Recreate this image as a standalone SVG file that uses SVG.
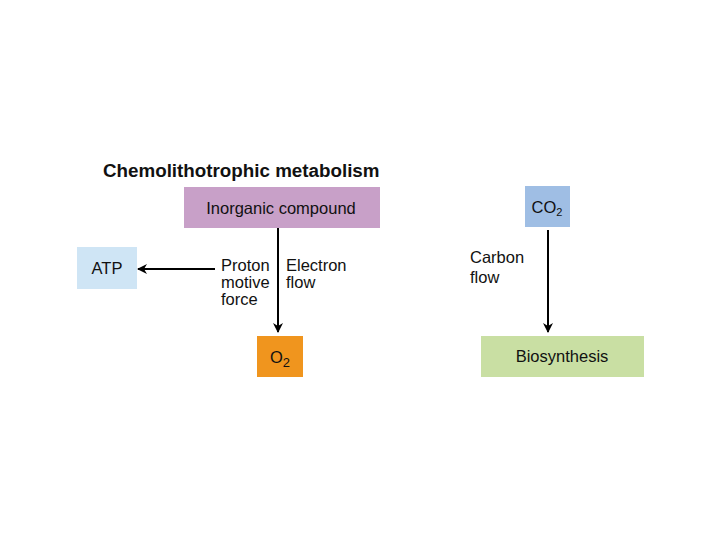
<svg xmlns="http://www.w3.org/2000/svg" width="720" height="540" viewBox="0 0 720 540">
<style>
text{font-family:"Liberation Sans",Arial,sans-serif;fill:#111}
.lbl{font-size:16.5px}
.ttl{font-size:18.8px;font-weight:bold}
.ln{stroke:#000;stroke-width:2;fill:none}
</style>
<defs>
<marker id="ah" viewBox="0 0 10 10" refX="9" refY="5" markerWidth="10" markerHeight="10" markerUnits="userSpaceOnUse" orient="auto">
<path d="M0,0 L10,5 L0,10 L3,5 Z" fill="#000"/>
</marker>
</defs>
<rect width="720" height="540" fill="#fff"/>
<text class="ttl" x="103" y="177">Chemolithotrophic metabolism</text>
<g id="inorganic">
<rect x="184" y="187" width="196" height="41" fill="#c8a0c8"/>
<text class="lbl" x="281" y="214" text-anchor="middle">Inorganic compound</text>
</g>
<g id="atp">
<rect x="77" y="247" width="60" height="42" fill="#cfe5f5"/>
<text class="lbl" x="107" y="274" text-anchor="middle">ATP</text>
</g>
<g id="o2">
<rect x="257" y="336" width="46" height="41" fill="#f0951e"/>
<text class="lbl" x="280" y="363" text-anchor="middle">O<tspan font-size="13" dy="4">2</tspan></text>
</g>
<g id="co2">
<rect x="525" y="186" width="45" height="41" fill="#9fbee4"/>
<text class="lbl" x="547" y="213" text-anchor="middle">CO<tspan font-size="11" dy="3">2</tspan></text>
</g>
<g id="biosynthesis">
<rect x="481" y="336" width="163" height="41" fill="#c9dfa3"/>
<text class="lbl" x="562" y="362" text-anchor="middle">Biosynthesis</text>
</g>
<g id="connectors">
<line class="ln" x1="278" y1="228" x2="278" y2="332" marker-end="url(#ah)"/>
<line class="ln" x1="215" y1="269" x2="138" y2="269" marker-end="url(#ah)"/>
<line class="ln" x1="548" y1="230" x2="548" y2="332" marker-end="url(#ah)"/>
</g>
<g id="labels">
<text class="lbl" x="221" y="271">Proton</text>
<text class="lbl" x="221" y="288">motive</text>
<text class="lbl" x="221" y="305">force</text>
<text class="lbl" x="286" y="271">Electron</text>
<text class="lbl" x="286" y="288">flow</text>
<text class="lbl" x="470" y="263">Carbon</text>
<text class="lbl" x="470" y="283">flow</text>
</g>
</svg>
